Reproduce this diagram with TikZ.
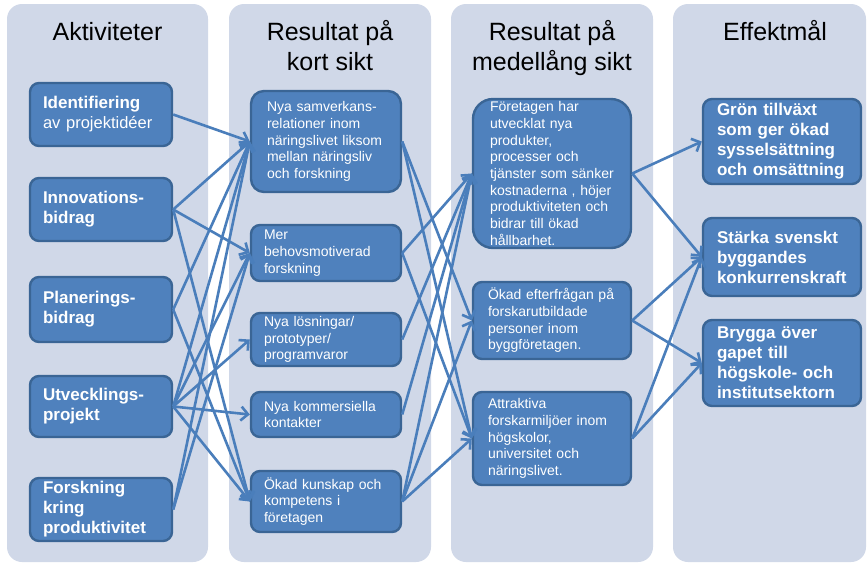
\documentclass[tikz,border=0pt]{standalone}
\usepackage{fontspec}
\setmainfont{Liberation Sans}
\usetikzlibrary{arrows.meta}
\definecolor{colbg}{HTML}{D0D8E8}
\definecolor{boxfill}{HTML}{4F81BD}
\definecolor{boxline}{HTML}{3A6595}
\definecolor{linkc}{HTML}{4A7EBB}
\begin{document}
\begin{tikzpicture}[x=1pt,y=-1pt,
  colbox/.style={fill=colbg, rounded corners=15pt},
  title/.style={font=\fontsize{25}{30}\selectfont, align=center, anchor=base, inner sep=0pt, text=black},
  box/.style={draw=boxline, fill=boxfill, line width=2.4pt, rounded corners=9pt, text=white, align=left, inner ysep=0pt, anchor=center},
  actbox/.style={box, font=\fontsize{17}{20}\selectfont\bfseries, inner xsep=13pt, minimum width=142pt, text width=116pt},
  ksbox/.style={box, font=\fontsize{14}{16.8}\selectfont, inner xsep=13pt, minimum width=150pt, text width=124pt},
  msbox/.style={box, font=\fontsize{14}{16.7}\selectfont, inner xsep=15pt, minimum width=158pt, text width=128pt},
  efbox/.style={box, font=\fontsize{17}{20}\selectfont\bfseries, inner xsep=14pt, minimum width=158pt, text width=130pt},
  link/.style={draw=linkc, line width=2.6pt, -{Straight Barb[length=7pt,width=14pt]}}
]
\useasboundingbox (0,0) rectangle (867,563);
\fill[white] (0,0) rectangle (867,563);
% columns
\fill[colbox] (7,4) rectangle (208,562);
\fill[colbox] (229,4) rectangle (431,562);
\fill[colbox] (451,4) rectangle (653,562);
\fill[colbox] (673,4) rectangle (866,562);
% titles (base anchor = baseline of last line)
\node[title] (t1) at (107.5,40) {Aktiviteter};
\node[title] (t2) at (330,70) {Resultat på\\kort sikt};
\node[title] (t3) at (552,70) {Resultat på\\medellång sikt};
\node[title] (t4) at (775,40) {Effektmål};
% activities
\node[actbox, minimum height=63pt] (a1) at (101,114.5) {Identifiering\\{\mdseries\fontsize{16.5}{20}\selectfont av projektidéer}};
\node[actbox, minimum height=63pt] (a2) at (101,209.5) {Innovations-\\bidrag};
\node[actbox, minimum height=65pt] (a3) at (101,309.5) {Planerings-\\bidrag};
\node[actbox, minimum height=61pt] (a4) at (101,406.5) {Utvecklings-\\projekt};
\node[actbox, minimum height=63pt] (a5) at (101,509.5) {Forskning\\kring\\produktivitet};
% short term
\node[ksbox, minimum height=101pt, rounded corners=13pt, inner xsep=16pt, text width=118pt] (k1) at (326,141.5) {Nya samverkans-\\relationer inom\\näringslivet liksom\\mellan näringsliv\\och forskning};
\node[ksbox, minimum height=56pt] (k2) at (326,253) {Mer\\behovsmotiverad\\forskning};
\node[ksbox, minimum height=53pt] (k3) at (326,339.5) {Nya lösningar/\\prototyper/\\programvaror};
\node[ksbox, minimum height=45pt] (k4) at (326,414.5) {Nya kommersiella\\kontakter};
\node[ksbox, minimum height=61pt] (k5) at (326,501.5) {Ökad kunskap och\\kompetens i\\företagen};
% medium term
\node[msbox, minimum height=149pt, rounded corners=20pt, inner xsep=17pt, text width=124pt] (m1) at (552,173.5) {Företagen har\\utvecklat nya\\produkter,\\processer och\\tjänster som sänker\\kostnaderna , höjer\\produktiviteten och\\bidrar till ökad\\hållbarhet.};
\node[msbox, minimum height=77pt] (m2) at (552,320.5) {Ökad efterfrågan på\\forskarutbildade\\personer inom\\byggföretagen.};
\node[msbox, minimum height=93pt] (m3) at (552,438.5) {Attraktiva\\forskarmiljöer inom\\högskolor,\\universitet och\\näringslivet.};
% effects
\node[efbox, minimum height=85pt] (e1) at (782,141.5) {Grön tillväxt\\som ger ökad\\sysselsättning\\och omsättning};
\node[efbox, minimum height=78pt] (e2) at (782,257) {Stärka svenskt\\byggandes\\konkurrenskraft};
\node[efbox, minimum height=86pt] (e3) at (782,363) {Brygga över\\gapet till\\högskole- och\\institutsektorn};
% links activities -> short term
\draw[link] (a1.east) -- (k1.west);
\draw[link] (a2.east) -- (k1.west);
\draw[link] (a2.east) -- (k2.west);
\draw[link] (a2.east) -- (k5.west);
\draw[link] (a3.east) -- (k1.west);
\draw[link] (a3.east) -- (k5.west);
\draw[link] (a4.east) -- (k1.west);
\draw[link] (a4.east) -- (k2.west);
\draw[link] (a4.east) -- (k3.west);
\draw[link] (a4.east) -- (k4.west);
\draw[link] (a4.east) -- (k5.west);
\draw[link] (a5.east) -- (k1.west);
\draw[link] (a5.east) -- (k2.west);
% short -> medium
\draw[link] (k1.east) -- (m2.west);
\draw[link] (k1.east) -- (m3.west);
\draw[link] (k2.east) -- (m1.west);
\draw[link] (k2.east) -- (m3.west);
\draw[link] (k3.east) -- (m1.west);
\draw[link] (k4.east) -- (m1.west);
\draw[link] (k5.east) -- (m1.west);
\draw[link] (k5.east) -- (m2.west);
\draw[link] (k5.east) -- (m3.west);
% medium -> effects
\draw[link] (m1.east) -- (e1.west);
\draw[link] (m1.east) -- (e2.west);
\draw[link] (m2.east) -- (e2.west);
\draw[link] (m2.east) -- (e3.west);
\draw[link] (m3.east) -- (e2.west);
\draw[link] (m3.east) -- (e3.west);
\end{tikzpicture}
\end{document}
